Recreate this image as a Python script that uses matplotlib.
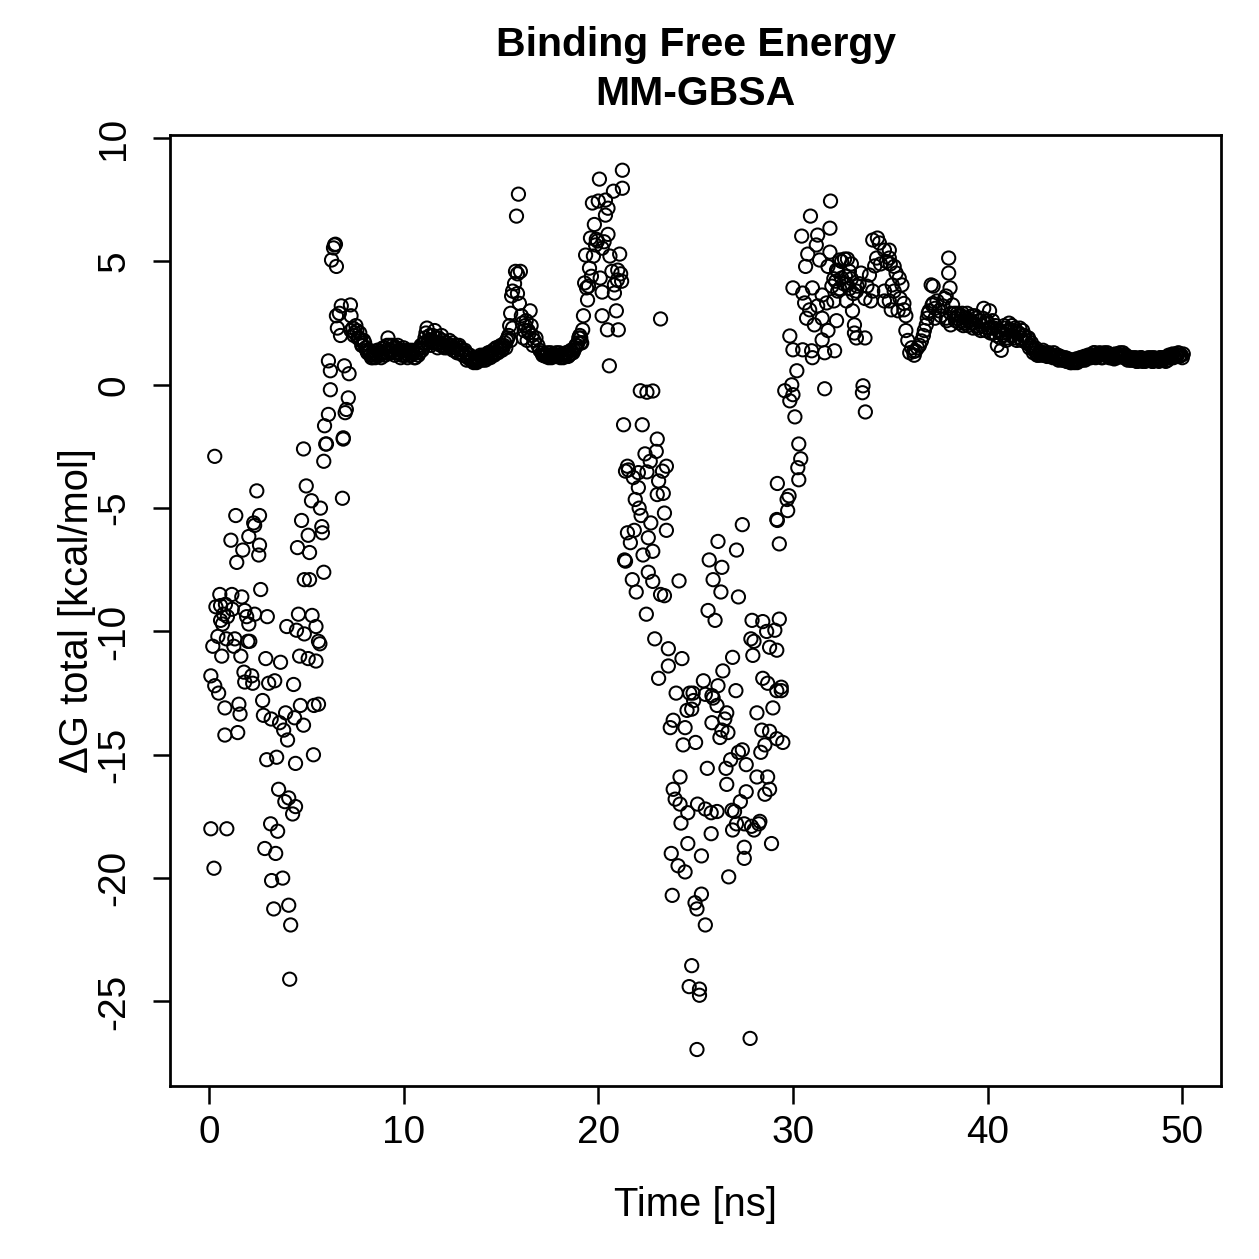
import matplotlib
matplotlib.use("Agg")
import matplotlib.pyplot as plt
import numpy as np

plt.rcParams['font.family'] = ['Liberation Sans', 'DejaVu Sans']

# --- data (time in ns, dG in kcal/mol) ---

# scattered start, 0 - 7.3 ns
early = [
    (0.3, -2.9), (4.86, -2.6), (6.0, -2.4), (5.9, -3.1), (6.9, -2.2), (2.46, -4.3), (5.0, -4.1),
    (6.86, -4.6), (5.27, -4.7), (5.73, -5.0), (1.38, -5.3), (2.6, -5.3), (2.3, -5.6), (2.35, -5.7),
    (4.76, -5.5), (5.8, -5.75), (5.83, -6.0), (5.1, -6.1), (1.13, -6.3), (2.05, -6.15), (2.6, -6.5),
    (2.56, -6.9), (1.74, -6.7), (1.43, -7.2), (4.55, -6.6), (5.17, -6.8), (5.9, -7.6), (4.9, -7.9),
    (5.17, -7.9), (2.66, -8.3), (0.56, -8.5), (1.18, -8.5), (1.69, -8.6),
    (0.36, -9.0), (0.6, -8.95), (0.85, -8.9), (0.75, -9.3), (0.95, -9.4), (0.7, -9.7), (0.9, -10.3),
    (0.6, -9.55), (1.2, -9.1), (1.84, -9.15), (1.94, -9.4), (2.35, -9.3), (2.05, -9.7), (3.0, -9.4),
    (4.6, -9.3), (5.3, -9.35), (4.0, -9.8), (4.5, -9.95), (4.9, -10.1), (5.5, -9.8), (5.63, -10.4),
    (5.7, -10.5), (0.46, -10.2), (0.2, -10.6), (0.66, -11.0), (1.33, -10.3), (1.28, -10.6),
    (1.64, -11.0), (2.0, -10.4), (2.1, -10.4), (2.92, -11.1), (3.68, -11.25), (4.66, -11.0),
    (5.1, -11.1), (5.5, -11.2), (0.1, -11.8), (0.3, -12.2), (0.5, -12.5), (1.8, -11.65),
    (1.84, -12.05), (2.2, -11.8), (2.25, -12.1), (3.07, -12.1), (3.38, -12.0), (4.35, -12.15),
    (0.82, -13.1), (1.54, -12.95), (1.6, -13.35), (2.76, -12.8), (2.8, -13.4), (3.2, -13.55),
    (3.94, -13.3), (3.63, -13.7), (4.4, -13.5), (4.86, -13.8), (4.7, -13.0), (5.4, -13.0),
    (5.63, -12.95), (0.82, -14.2), (1.48, -14.1), (3.84, -14.0), (4.04, -14.4), (2.97, -15.2),
    (3.48, -15.1), (4.45, -15.35), (5.37, -15.0), (3.58, -16.4), (3.9, -16.9), (4.1, -16.75),
    (4.45, -17.1), (4.3, -17.4), (0.1, -18.0), (0.92, -18.0), (3.17, -17.8), (3.53, -18.1),
    (2.87, -18.8), (3.43, -19.0), (0.26, -19.6), (3.22, -20.1), (3.79, -20.0), (3.33, -21.25),
    (4.1, -21.1), (4.2, -21.9), (4.15, -24.1),
    (6.45, 5.67), (6.4, 5.55), (6.5, 5.7), (6.3, 5.06), (6.55, 4.8), (6.8, 3.2), (7.27, 3.24),
    (6.55, 2.8), (6.7, 2.9), (7.3, 2.8), (6.6, 2.3), (6.76, 2.0), (7.3, 2.2), (6.14, 0.97),
    (6.24, 0.57), (6.96, 0.77), (7.2, 0.45), (6.24, -0.2), (7.16, -0.53), (7.06, -1.0),
    (7.0, -1.13), (6.14, -1.2), (5.94, -1.66), (6.9, -2.15), (6.04, -2.4),
]

# first plateau, 7.4 - 15.35 ns, two interleaved runs every 0.1 ns
plateau1_start = 7.4
plateau1 = [
    2.3, 2.1, 2.2, 1.9, 1.8, 1.6, 1.7, 1.4, 1.3, 1.2,
    1.1, 1.3, 1.2, 1.4, 1.2, 1.3, 1.5, 1.3, 1.9, 1.6,
    1.4, 1.5, 1.3, 1.6, 1.4, 1.2, 1.5, 1.3, 1.1, 1.4,
    1.2, 1.3, 1.1, 1.4, 1.3, 1.6, 1.5, 1.9, 2.3, 1.8,
    1.6, 2.0, 2.2, 1.7, 1.9, 1.6, 1.8, 1.5, 1.7, 1.6,
    1.5, 1.7, 1.4, 1.6, 1.3, 1.5, 1.4, 1.2, 1.3, 1.1,
    1.2, 1.0, 0.9, 1.1, 0.95, 1.0, 1.1, 1.2, 1.0, 1.1,
    1.3, 1.2, 1.4, 1.3, 1.5, 1.4, 1.6, 1.5, 1.7, 1.8,
]
plateau1b_start = 7.45
plateau1b = [
    2.0, 2.4, 1.9, 2.1, 1.6, 1.8, 1.5, 1.3, 1.4, 1.1,
    1.2, 1.1, 1.4, 1.3, 1.1, 1.5, 1.2, 1.6, 1.4, 1.3,
    1.6, 1.2, 1.5, 1.3, 1.1, 1.4, 1.2, 1.4, 1.2, 1.3,
    1.4, 1.1, 1.3, 1.2, 1.5, 1.4, 1.7, 2.1, 1.7, 2.0,
    1.8, 1.7, 1.9, 1.5, 1.7, 2.0, 1.6, 1.7, 1.5, 1.8,
    1.6, 1.4, 1.5, 1.3, 1.6, 1.3, 1.2, 1.4, 1.0, 1.2,
    1.0, 1.1, 1.0, 0.9, 1.1, 1.2, 1.0, 1.1, 1.2, 1.3,
    1.1, 1.3, 1.2, 1.5, 1.3, 1.5, 1.4, 1.6, 1.5, 1.9,
]

# spike around 16 ns
spike = [
    (15.4, 2.0), (15.45, 2.4), (15.5, 2.9), (15.55, 3.6), (15.6, 3.8), (15.7, 4.1), (15.75, 4.6),
    (15.8, 6.84), (15.9, 7.73), (16.0, 4.6), (15.85, 3.7), (15.95, 3.3), (16.05, 2.8), (16.1, 2.5),
    (16.2, 2.2), (16.3, 2.6), (16.4, 2.2), (16.5, 3.0), (16.55, 2.4), (16.6, 2.0), (16.7, 1.8),
    (16.8, 1.9), (16.9, 1.6), (17.0, 1.4), (16.15, 1.9), (16.35, 1.8), (16.45, 2.1), (16.65, 1.6),
    (15.5, 1.8), (15.6, 2.3), (15.85, 4.5), (16.25, 2.4),
]

# second plateau, 17.1 - 19.15 ns
plateau2_start = 17.1
plateau2 = [1.3, 1.2, 1.15, 1.3, 1.2, 1.1, 1.25, 1.2, 1.15, 1.3,
            1.2, 1.1, 1.2, 1.3, 1.2, 1.4, 1.3, 1.5, 1.6, 1.9, 1.7]
plateau2b_start = 17.15
plateau2b = [1.2, 1.25, 1.2, 1.1, 1.3, 1.2, 1.15, 1.3, 1.2, 1.1,
             1.25, 1.2, 1.3, 1.15, 1.25, 1.3, 1.4, 1.6, 1.7, 2.0]

# climb to the maximum, 19.2 - 21.3 ns
climb = [
    (19.2, 2.23), (19.24, 2.8), (19.3, 4.13), (19.35, 5.26), (19.4, 3.93), (19.45, 3.44),
    (19.55, 4.73), (19.6, 5.95), (19.7, 7.37), (19.75, 5.22), (19.8, 6.5), (19.86, 5.67),
    (19.96, 5.83), (20.0, 7.45), (20.06, 8.34), (20.1, 4.33), (20.2, 5.54), (20.2, 3.76),
    (20.2, 2.8), (20.37, 7.49), (20.37, 6.88), (20.47, 2.23), (20.5, 7.16), (20.5, 6.1),
    (20.57, 0.77), (20.6, 5.22), (20.78, 7.85), (20.83, 4.05), (20.83, 3.72), (20.93, 3.0),
    (20.98, 4.25), (21.0, 4.65), (21.03, 2.23), (21.1, 5.3), (21.24, 8.7), (21.24, 7.97),
    (19.5, 4.0), (19.65, 4.4), (19.9, 5.9), (20.3, 5.8), (20.7, 4.6), (21.15, 4.5), (21.2, 4.2),
    (19.1, 1.9), (19.15, 1.7),
]

# unbinding dip, 21.3 - 29.5 ns
dip = [
    (22.16, -0.24), (22.5, -0.3), (22.8, -0.25), (23.2, 2.67),
    (21.3, -1.62), (22.26, -1.62), (23.03, -2.2), (22.4, -2.8), (22.98, -2.7), (22.67, -3.1),
    (21.5, -3.3), (21.55, -3.45), (21.4, -3.5), (22.06, -3.56), (21.8, -3.76), (22.5, -3.53),
    (23.3, -3.5), (23.5, -3.3), (23.1, -3.9), (22.06, -4.17), (23.03, -4.45), (23.34, -4.4),
    (21.9, -4.65), (22.1, -5.0), (22.2, -5.3), (22.7, -5.6), (23.4, -5.2), (23.5, -5.9),
    (21.5, -6.0), (21.85, -5.9), (21.65, -6.4), (22.57, -6.2), (22.3, -6.9), (22.8, -6.75),
    (21.35, -7.1), (21.4, -7.15), (22.57, -7.6), (22.8, -7.97), (21.75, -7.9), (21.95, -8.4),
    (23.2, -8.5), (23.4, -8.55), (24.15, -7.95), (22.47, -9.3), (22.9, -10.3), (23.6, -10.7),
    (24.3, -11.1), (23.6, -11.4), (23.1, -11.9), (24.0, -12.5), (24.7, -12.5),
    (29.2, -4.0), (29.2, -5.5), (29.3, -6.45), (27.4, -5.67), (26.15, -6.35), (27.1, -6.7),
    (25.7, -7.1), (26.35, -7.4), (25.9, -7.9), (26.3, -8.4), (27.2, -8.6), (25.64, -9.15),
    (26.0, -9.55), (27.9, -9.55), (28.45, -9.6), (28.65, -10.0), (29.07, -9.95), (29.3, -9.5),
    (27.84, -10.3), (28.0, -10.4), (27.94, -10.97), (28.8, -10.64), (29.17, -10.76),
    (26.9, -11.05), (26.4, -11.6), (25.4, -12.0), (26.15, -12.2), (27.07, -12.4), (28.45, -11.9),
    (28.7, -12.1), (29.17, -12.4), (29.4, -12.26), (29.4, -12.4), (24.87, -12.5), (25.5, -12.55),
    (25.84, -12.6), (24.9, -12.8), (24.56, -13.2), (24.8, -13.15), (25.9, -12.7), (26.1, -13.0),
    (26.6, -13.3), (26.5, -13.55), (25.84, -13.7), (26.35, -14.0), (26.25, -14.3), (26.66, -14.1),
    (23.85, -13.6), (23.7, -13.9), (24.46, -13.9), (24.36, -14.6), (25.0, -14.5), (28.15, -13.3),
    (28.97, -13.1), (28.4, -14.0), (28.8, -14.05), (29.17, -14.35), (29.48, -14.5), (28.56, -14.6),
    (28.35, -14.9), (25.6, -15.55), (26.56, -15.55), (26.8, -15.2), (27.2, -14.9), (27.4, -14.8),
    (27.6, -15.4), (24.2, -15.9), (23.85, -16.4), (23.95, -16.8), (24.2, -17.0), (24.6, -17.35),
    (24.25, -17.77), (25.1, -17.0), (25.5, -17.2), (25.8, -17.35), (26.1, -17.3), (26.6, -16.2),
    (26.87, -17.25), (27.0, -17.3), (27.3, -16.9), (27.6, -16.5), (28.15, -15.9), (28.7, -15.9),
    (28.8, -16.4), (28.56, -16.6), (26.9, -18.05), (27.1, -17.8), (27.5, -17.8), (27.87, -17.9),
    (28.0, -18.05), (28.25, -17.8), (28.3, -17.7), (25.8, -18.2), (24.6, -18.6), (27.5, -18.75),
    (27.5, -19.2), (28.9, -18.6), (23.75, -19.0), (24.1, -19.5), (24.46, -19.75), (25.3, -19.1),
    (26.7, -19.95), (23.8, -20.7), (25.3, -20.65), (24.97, -21.0), (25.07, -21.25), (25.5, -21.9),
    (24.8, -23.55), (24.67, -24.4), (25.2, -24.5), (25.2, -24.75), (27.8, -26.5), (25.07, -26.95),
]

# rebinding, 29.5 - 38.2 ns
rebind = [
    (31.93, 7.45), (30.9, 6.84), (31.9, 6.35), (30.45, 6.03), (31.27, 6.07), (31.2, 5.67),
    (30.76, 5.3), (30.65, 4.8), (31.37, 5.06), (31.9, 5.38), (32.4, 5.06), (32.65, 5.1),
    (31.8, 4.8), (32.24, 4.65), (30.0, 3.93), (30.5, 3.72), (31.0, 3.93), (31.5, 3.64),
    (30.6, 3.32), (30.86, 3.04), (31.27, 3.2), (31.73, 3.32), (32.1, 3.4), (30.7, 2.7),
    (31.1, 2.43), (31.5, 2.7), (32.24, 2.6), (31.8, 2.2), (31.5, 1.82), (29.84, 1.98),
    (30.0, 1.42), (30.5, 1.42), (30.96, 1.38), (31.0, 1.1), (31.63, 1.3), (32.14, 1.38),
    (30.2, 0.57), (29.94, 0.0), (29.58, -0.24), (30.0, -0.4), (29.84, -0.65), (31.63, -0.16),
    (33.6, -0.04), (33.57, -0.32), (33.72, -1.1), (30.1, -1.3), (30.3, -2.4), (30.4, -3.0),
    (30.25, -3.36), (30.3, -3.85), (29.7, -4.65), (29.8, -4.5), (29.73, -5.1), (29.17, -5.46),
    (32.8, 4.05), (32.5, 4.33), (33.26, 3.8), (32.75, 3.4), (33.06, 3.0), (33.16, 2.43),
    (33.16, 2.1), (33.26, 1.9), (33.7, 1.9),
    (34.1, 5.87), (34.34, 5.95), (34.44, 5.75), (34.3, 5.14), (34.7, 5.46), (34.95, 5.46),
    (34.95, 5.14), (34.2, 4.82), (33.93, 4.45), (33.5, 4.53), (35.3, 4.53), (35.46, 4.33),
    (35.1, 4.05), (35.6, 4.05), (35.2, 3.8), (34.95, 3.4), (35.05, 3.04), (35.7, 3.04),
    (35.8, 2.8), (34.7, 3.8), (34.7, 3.4), (34.1, 3.8), (34.0, 3.4), (33.7, 3.5),
    (35.8, 2.2), (35.9, 1.8), (36.1, 1.5), (36.23, 1.2), (36.3, 1.38), (36.6, 1.78),
    (36.75, 2.2), (36.85, 2.43), (37.1, 4.05), (38.0, 5.14), (38.0, 4.53), (38.07, 3.93),
    (37.87, 3.6), (37.15, 3.24), (37.5, 3.0), (37.87, 2.7), (38.2, 3.24), (38.1, 2.43),
    (32.0, 4.0), (32.2, 4.2), (32.4, 3.9), (32.6, 4.1), (32.9, 3.9), (33.0, 4.3), (33.1, 3.7),
    (32.3, 4.6), (32.7, 4.4), (33.0, 4.9), (32.5, 5.0), (32.8, 5.1), (33.4, 4.1), (33.8, 4.0),
    (34.5, 4.9), (35.0, 4.9), (35.4, 3.0), (36.0, 1.3), (36.4, 1.5), (36.5, 1.6),
    (36.9, 2.7), (37.0, 3.0), (37.2, 3.3), (37.3, 3.1), (37.4, 3.4), (37.6, 2.8), (37.7, 3.2),
    (37.8, 3.5), (37.9, 2.6), (38.1, 2.9), (37.3, 2.7), (36.95, 2.9), (37.2, 4.0),
    (32.1, 4.3), (32.3, 3.8), (32.9, 4.6), (33.3, 4.0), (34.8, 5.0), (35.2, 4.8), (35.5, 3.5),
    (35.7, 3.3), (36.2, 1.35), (36.7, 2.0),
]

# slow relaxation, 38.3 - 50.05 ns, two interleaved runs every 0.1 ns
plateau3_start = 38.3
plateau3 = [
    2.9, 2.7, 2.8, 2.6, 2.9, 2.5, 2.7, 2.4, 2.6, 2.8,
    2.5, 2.7, 2.3, 2.6, 2.4, 3.1, 2.2, 2.5, 3.0, 2.3,
    2.1, 2.4, 1.6, 2.2, 1.4, 2.0, 2.3, 1.9, 2.5, 2.2,
    2.0, 2.3, 1.8, 2.1, 1.9, 2.2, 2.0, 1.7, 1.9, 1.6,
    1.5, 1.4, 1.3, 1.2, 1.35, 1.3, 1.2, 1.3, 1.25, 1.15,
    1.2, 1.3, 1.1, 1.2, 1.05, 1.1, 1.0, 1.1, 0.95, 1.0,
    0.9, 0.95, 1.0, 0.9, 1.0, 1.05, 1.1, 1.0, 1.1, 1.2,
    1.1, 1.2, 1.3, 1.15, 1.25, 1.2, 1.1, 1.3, 1.2, 1.15,
    1.1, 1.2, 1.05, 1.15, 1.25, 1.3, 1.2, 1.1, 1.2, 1.0,
    1.1, 1.0, 1.05, 1.1, 0.95, 1.0, 1.1, 1.0, 0.95, 1.05,
    1.0, 1.1, 0.95, 1.0, 1.05, 0.95, 1.1, 1.0, 1.05, 1.1,
    1.2, 1.1, 1.25, 1.15, 1.2, 1.3, 1.2, 1.1,
]
plateau3b_start = 38.35
plateau3b = [
    2.6, 2.9, 2.5, 2.8, 2.4, 2.7, 2.9, 2.6, 2.5, 2.3,
    2.8, 2.4, 2.6, 2.2, 2.7, 2.5, 2.6, 2.3, 2.1, 2.6,
    2.3, 2.0, 2.2, 1.9, 2.1, 2.4, 1.8, 2.2, 2.0, 2.4,
    2.2, 1.9, 2.1, 2.3, 1.8, 2.0, 1.8, 1.9, 1.5, 1.7,
    1.3, 1.5, 1.2, 1.3, 1.2, 1.4, 1.25, 1.15, 1.3, 1.2,
    1.1, 1.15, 1.2, 1.0, 1.15, 1.0, 1.05, 0.95, 1.05, 0.9,
    1.0, 0.9, 1.05, 0.95, 1.1, 1.0, 1.15, 1.1, 1.2, 1.1,
    1.2, 1.3, 1.1, 1.2, 1.3, 1.1, 1.25, 1.2, 1.3, 1.1,
    1.2, 1.1, 1.25, 1.1, 1.2, 1.15, 1.3, 1.2, 1.1, 1.1,
    1.0, 1.1, 1.0, 0.95, 1.05, 1.1, 0.95, 1.05, 1.0, 1.1,
    1.05, 0.95, 1.1, 1.05, 1.0, 1.1, 1.0, 1.1, 0.95, 1.0,
    1.1, 1.2, 1.1, 1.25, 1.2, 1.15, 1.2, 1.25,
]

x_ticks = [0, 10, 20, 30, 40, 50]
y_ticks = [-25, -20, -15, -10, -5, 0, 5, 10]


def plateau(start, vals):
    t = start + 0.1 * np.arange(len(vals))
    return np.column_stack([t, vals])


pts = np.vstack([
    np.array(early),
    plateau(plateau1_start, plateau1), plateau(plateau1b_start, plateau1b),
    np.array(spike),
    plateau(plateau2_start, plateau2), plateau(plateau2b_start, plateau2b),
    np.array(climb), np.array(dip), np.array(rebind),
    plateau(plateau3_start, plateau3), plateau(plateau3b_start, plateau3b),
])

fig = plt.figure(figsize=(1259 / 180, 1259 / 180), dpi=180)
ax = fig.add_axes([0.135, 0.1374, 0.835, 0.7554])

ax.scatter(pts[:, 0], pts[:, 1], s=28, facecolors='none', edgecolors='black', linewidths=0.8)

ax.set_xlim(-2, 52)
ax.set_ylim(-28.43, 10.13)
ax.set_xticks(x_ticks)
ax.set_yticks(y_ticks)
ax.set_yticklabels([str(v) for v in y_ticks], rotation=90, va='center')
ax.tick_params(axis='both', length=7, width=1.0, labelsize=15.5, direction='out')
ax.tick_params(axis='x', pad=4.5)
ax.tick_params(axis='y', pad=8)
for sp in ax.spines.values():
    sp.set_linewidth(1.1)

ax.set_xlabel('Time [ns]', fontsize=16, labelpad=14)
ax.set_ylabel('ΔG total [kcal/mol]', fontsize=16, labelpad=0)
ax.set_title('Binding Free Energy\nMM-GBSA', fontsize=16.4, fontweight='bold', pad=12,
             linespacing=1.35)

fig.savefig('out.png', dpi=180)
